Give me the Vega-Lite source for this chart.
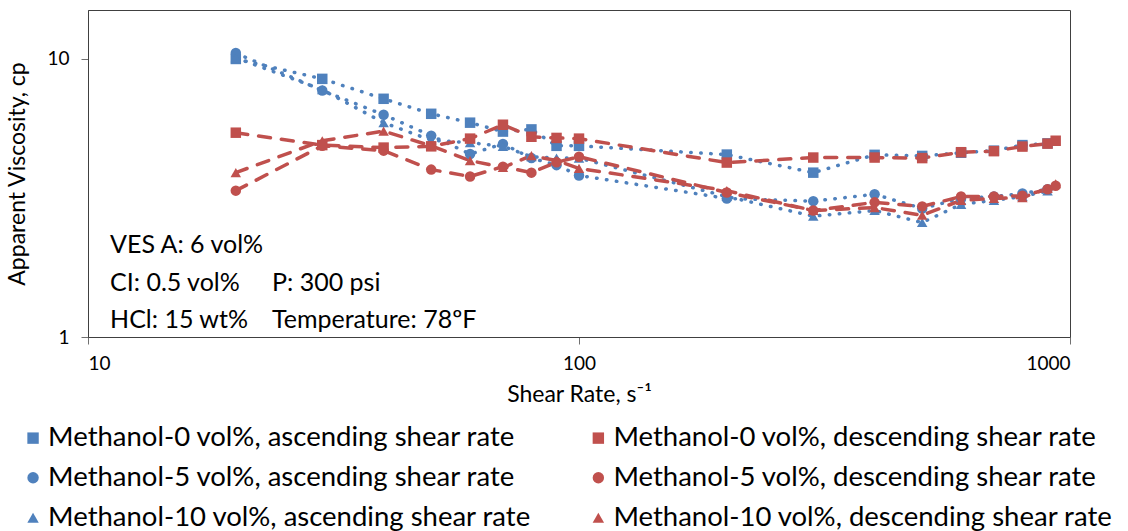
{
  "$schema": "https://vega.github.io/schema/vega-lite/v6.json",
  "width": 982,
  "height": 327,
  "autosize": {"type": "none"},
  "padding": {"left": 88, "top": 10, "right": 58, "bottom": 194},
  "background": "white",
  "config": {
    "font": "Lato",
    "view": {"stroke": "#404040", "strokeWidth": 1},
    "axis": {"grid": false, "domainColor": "#404040", "tickColor": "#707070", "labelColor": "#000000", "titleColor": "#000000", "labelFontSize": 19, "titleFontSize": 23, "titleFontWeight": "normal", "labelFont": "Lato", "titleFont": "Lato"},
    "legend": {"labelFont": "Lato", "labelColor": "#000000"}
  },
  "datasets": {
    "visc": [
      {"series": "Methanol-0 vol%, ascending shear rate", "rate": 20, "visc": 10.0},
      {"series": "Methanol-0 vol%, ascending shear rate", "rate": 30, "visc": 8.48},
      {"series": "Methanol-0 vol%, ascending shear rate", "rate": 40, "visc": 7.19},
      {"series": "Methanol-0 vol%, ascending shear rate", "rate": 50, "visc": 6.35},
      {"series": "Methanol-0 vol%, ascending shear rate", "rate": 60, "visc": 5.9},
      {"series": "Methanol-0 vol%, ascending shear rate", "rate": 70, "visc": 5.48},
      {"series": "Methanol-0 vol%, ascending shear rate", "rate": 80, "visc": 5.58},
      {"series": "Methanol-0 vol%, ascending shear rate", "rate": 90, "visc": 4.87},
      {"series": "Methanol-0 vol%, ascending shear rate", "rate": 100, "visc": 4.87},
      {"series": "Methanol-0 vol%, ascending shear rate", "rate": 200, "visc": 4.53},
      {"series": "Methanol-0 vol%, ascending shear rate", "rate": 300, "visc": 3.9},
      {"series": "Methanol-0 vol%, ascending shear rate", "rate": 400, "visc": 4.52},
      {"series": "Methanol-0 vol%, ascending shear rate", "rate": 500, "visc": 4.48},
      {"series": "Methanol-0 vol%, ascending shear rate", "rate": 600, "visc": 4.6},
      {"series": "Methanol-0 vol%, ascending shear rate", "rate": 700, "visc": 4.68},
      {"series": "Methanol-0 vol%, ascending shear rate", "rate": 800, "visc": 4.9},
      {"series": "Methanol-0 vol%, ascending shear rate", "rate": 900, "visc": 4.97},
      {"series": "Methanol-5 vol%, ascending shear rate", "rate": 20, "visc": 10.5},
      {"series": "Methanol-5 vol%, ascending shear rate", "rate": 30, "visc": 7.7},
      {"series": "Methanol-5 vol%, ascending shear rate", "rate": 40, "visc": 6.3},
      {"series": "Methanol-5 vol%, ascending shear rate", "rate": 50, "visc": 5.3},
      {"series": "Methanol-5 vol%, ascending shear rate", "rate": 60, "visc": 4.55},
      {"series": "Methanol-5 vol%, ascending shear rate", "rate": 70, "visc": 4.95},
      {"series": "Methanol-5 vol%, ascending shear rate", "rate": 80, "visc": 4.4},
      {"series": "Methanol-5 vol%, ascending shear rate", "rate": 90, "visc": 4.15},
      {"series": "Methanol-5 vol%, ascending shear rate", "rate": 100, "visc": 3.81},
      {"series": "Methanol-5 vol%, ascending shear rate", "rate": 200, "visc": 3.15},
      {"series": "Methanol-5 vol%, ascending shear rate", "rate": 300, "visc": 3.08},
      {"series": "Methanol-5 vol%, ascending shear rate", "rate": 400, "visc": 3.26},
      {"series": "Methanol-5 vol%, ascending shear rate", "rate": 500, "visc": 2.9},
      {"series": "Methanol-5 vol%, ascending shear rate", "rate": 600, "visc": 3.15},
      {"series": "Methanol-5 vol%, ascending shear rate", "rate": 700, "visc": 3.2},
      {"series": "Methanol-5 vol%, ascending shear rate", "rate": 800, "visc": 3.28},
      {"series": "Methanol-5 vol%, ascending shear rate", "rate": 900, "visc": 3.4},
      {"series": "Methanol-10 vol%, ascending shear rate", "rate": 20, "visc": 10.1},
      {"series": "Methanol-10 vol%, ascending shear rate", "rate": 30, "visc": 7.75},
      {"series": "Methanol-10 vol%, ascending shear rate", "rate": 40, "visc": 5.9},
      {"series": "Methanol-10 vol%, ascending shear rate", "rate": 50, "visc": 5.1},
      {"series": "Methanol-10 vol%, ascending shear rate", "rate": 60, "visc": 5.0},
      {"series": "Methanol-10 vol%, ascending shear rate", "rate": 70, "visc": 4.85},
      {"series": "Methanol-10 vol%, ascending shear rate", "rate": 80, "visc": 4.45},
      {"series": "Methanol-10 vol%, ascending shear rate", "rate": 90, "visc": 4.4},
      {"series": "Methanol-10 vol%, ascending shear rate", "rate": 100, "visc": 4.4},
      {"series": "Methanol-10 vol%, ascending shear rate", "rate": 200, "visc": 3.2},
      {"series": "Methanol-10 vol%, ascending shear rate", "rate": 300, "visc": 2.72},
      {"series": "Methanol-10 vol%, ascending shear rate", "rate": 400, "visc": 2.85},
      {"series": "Methanol-10 vol%, ascending shear rate", "rate": 500, "visc": 2.58},
      {"series": "Methanol-10 vol%, ascending shear rate", "rate": 600, "visc": 3.0},
      {"series": "Methanol-10 vol%, ascending shear rate", "rate": 700, "visc": 3.1},
      {"series": "Methanol-10 vol%, ascending shear rate", "rate": 800, "visc": 3.2},
      {"series": "Methanol-10 vol%, ascending shear rate", "rate": 900, "visc": 3.35},
      {"series": "Methanol-0 vol%, descending shear rate", "rate": 20, "visc": 5.43},
      {"series": "Methanol-0 vol%, descending shear rate", "rate": 30, "visc": 4.9},
      {"series": "Methanol-0 vol%, descending shear rate", "rate": 40, "visc": 4.8},
      {"series": "Methanol-0 vol%, descending shear rate", "rate": 50, "visc": 4.85},
      {"series": "Methanol-0 vol%, descending shear rate", "rate": 60, "visc": 5.17},
      {"series": "Methanol-0 vol%, descending shear rate", "rate": 70, "visc": 5.8},
      {"series": "Methanol-0 vol%, descending shear rate", "rate": 80, "visc": 5.25},
      {"series": "Methanol-0 vol%, descending shear rate", "rate": 90, "visc": 5.2},
      {"series": "Methanol-0 vol%, descending shear rate", "rate": 100, "visc": 5.17},
      {"series": "Methanol-0 vol%, descending shear rate", "rate": 200, "visc": 4.24},
      {"series": "Methanol-0 vol%, descending shear rate", "rate": 300, "visc": 4.42},
      {"series": "Methanol-0 vol%, descending shear rate", "rate": 400, "visc": 4.42},
      {"series": "Methanol-0 vol%, descending shear rate", "rate": 500, "visc": 4.4},
      {"series": "Methanol-0 vol%, descending shear rate", "rate": 600, "visc": 4.62},
      {"series": "Methanol-0 vol%, descending shear rate", "rate": 700, "visc": 4.66},
      {"series": "Methanol-0 vol%, descending shear rate", "rate": 800, "visc": 4.84},
      {"series": "Methanol-0 vol%, descending shear rate", "rate": 900, "visc": 4.96},
      {"series": "Methanol-0 vol%, descending shear rate", "rate": 935, "visc": 5.08},
      {"series": "Methanol-5 vol%, descending shear rate", "rate": 20, "visc": 3.36},
      {"series": "Methanol-5 vol%, descending shear rate", "rate": 30, "visc": 4.87},
      {"series": "Methanol-5 vol%, descending shear rate", "rate": 40, "visc": 4.68},
      {"series": "Methanol-5 vol%, descending shear rate", "rate": 50, "visc": 4.0},
      {"series": "Methanol-5 vol%, descending shear rate", "rate": 60, "visc": 3.78},
      {"series": "Methanol-5 vol%, descending shear rate", "rate": 70, "visc": 4.1},
      {"series": "Methanol-5 vol%, descending shear rate", "rate": 80, "visc": 3.9},
      {"series": "Methanol-5 vol%, descending shear rate", "rate": 90, "visc": 4.25},
      {"series": "Methanol-5 vol%, descending shear rate", "rate": 100, "visc": 4.45},
      {"series": "Methanol-5 vol%, descending shear rate", "rate": 200, "visc": 3.31},
      {"series": "Methanol-5 vol%, descending shear rate", "rate": 300, "visc": 2.85},
      {"series": "Methanol-5 vol%, descending shear rate", "rate": 400, "visc": 3.05},
      {"series": "Methanol-5 vol%, descending shear rate", "rate": 500, "visc": 2.95},
      {"series": "Methanol-5 vol%, descending shear rate", "rate": 600, "visc": 3.2},
      {"series": "Methanol-5 vol%, descending shear rate", "rate": 700, "visc": 3.2},
      {"series": "Methanol-5 vol%, descending shear rate", "rate": 800, "visc": 3.22},
      {"series": "Methanol-5 vol%, descending shear rate", "rate": 900, "visc": 3.4},
      {"series": "Methanol-5 vol%, descending shear rate", "rate": 935, "visc": 3.5},
      {"series": "Methanol-10 vol%, descending shear rate", "rate": 20, "visc": 3.9},
      {"series": "Methanol-10 vol%, descending shear rate", "rate": 30, "visc": 5.08},
      {"series": "Methanol-10 vol%, descending shear rate", "rate": 40, "visc": 5.5},
      {"series": "Methanol-10 vol%, descending shear rate", "rate": 50, "visc": 4.87},
      {"series": "Methanol-10 vol%, descending shear rate", "rate": 60, "visc": 4.31},
      {"series": "Methanol-10 vol%, descending shear rate", "rate": 70, "visc": 4.07},
      {"series": "Methanol-10 vol%, descending shear rate", "rate": 80, "visc": 4.49},
      {"series": "Methanol-10 vol%, descending shear rate", "rate": 90, "visc": 4.31},
      {"series": "Methanol-10 vol%, descending shear rate", "rate": 100, "visc": 4.04},
      {"series": "Methanol-10 vol%, descending shear rate", "rate": 200, "visc": 3.36},
      {"series": "Methanol-10 vol%, descending shear rate", "rate": 300, "visc": 2.85},
      {"series": "Methanol-10 vol%, descending shear rate", "rate": 400, "visc": 2.92},
      {"series": "Methanol-10 vol%, descending shear rate", "rate": 500, "visc": 2.74},
      {"series": "Methanol-10 vol%, descending shear rate", "rate": 600, "visc": 3.1},
      {"series": "Methanol-10 vol%, descending shear rate", "rate": 700, "visc": 3.15},
      {"series": "Methanol-10 vol%, descending shear rate", "rate": 800, "visc": 3.17},
      {"series": "Methanol-10 vol%, descending shear rate", "rate": 900, "visc": 3.42},
      {"series": "Methanol-10 vol%, descending shear rate", "rate": 935, "visc": 3.56}
    ],
    "notes": [
      {"rate": 11.09, "visc": 2.137, "label": "VES A: 6 vol%"},
      {"rate": 11.09, "visc": 1.562, "label": "CI: 0.5 vol%"},
      {"rate": 11.09, "visc": 1.15, "label": "HCl: 15 wt%"},
      {"rate": 23.7, "visc": 1.562, "label": "P: 300 psi"},
      {"rate": 23.7, "visc": 1.15, "label": "Temperature: 78ºF"}
    ]
  },
  "layer": [
    {
      "data": {"name": "visc"},
      "mark": {"type": "line", "strokeWidth": 3.5, "strokeCap": "round", "clip": true},
      "encoding": {
        "x": {"field": "rate", "type": "quantitative", "scale": {"type": "log", "domain": [10, 1000], "nice": false},
              "axis": {"values": [10, 100, 1000], "format": ".0f", "tickSize": 7, "labelPadding": 10, "title": "Shear Rate, s⁻¹", "titlePadding": 10}},
        "y": {"field": "visc", "type": "quantitative", "scale": {"type": "log", "domain": [1, 15], "nice": false, "zero": false},
              "axis": {"values": [1, 10], "format": ".0f", "tickSize": 7, "labelPadding": 12, "title": "Apparent Viscosity, cp", "titlePadding": 17}},
        "stroke": {"field": "series", "type": "nominal", "legend": null,
          "scale": {"domain": ["Methanol-0 vol%, descending shear rate", "Methanol-5 vol%, descending shear rate", "Methanol-10 vol%, descending shear rate", "Methanol-0 vol%, ascending shear rate", "Methanol-5 vol%, ascending shear rate", "Methanol-10 vol%, ascending shear rate"],
                    "range": ["#C0504D", "#C0504D", "#C0504D", "#4F81BD", "#4F81BD", "#4F81BD"]}},
        "strokeDash": {"field": "series", "type": "nominal", "legend": null,
          "scale": {"domain": ["Methanol-0 vol%, descending shear rate", "Methanol-5 vol%, descending shear rate", "Methanol-10 vol%, descending shear rate", "Methanol-0 vol%, ascending shear rate", "Methanol-5 vol%, ascending shear rate", "Methanol-10 vol%, ascending shear rate"],
                    "range": [[12, 11], [12, 11], [12, 11], [0.5, 9.5], [0.5, 9.5], [0.5, 9.5]]}}
      }
    },
    {
      "data": {"name": "visc"},
      "mark": {"type": "point", "filled": true, "opacity": 1, "size": 110},
      "encoding": {
        "x": {"field": "rate", "type": "quantitative"},
        "y": {"field": "visc", "type": "quantitative"},
        "color": {"field": "series", "type": "nominal",
          "scale": {"domain": ["Methanol-0 vol%, ascending shear rate", "Methanol-5 vol%, ascending shear rate", "Methanol-10 vol%, ascending shear rate", "Methanol-0 vol%, descending shear rate", "Methanol-5 vol%, descending shear rate", "Methanol-10 vol%, descending shear rate"],
                    "range": ["#4F81BD", "#4F81BD", "#4F81BD", "#C0504D", "#C0504D", "#C0504D"]},
          "legend": {"title": null, "orient": "none", "legendX": -68.7, "legendY": 414, "columns": 2, "columnPadding": 52.3, "rowPadding": 11, "padding": 0,
                     "labelFontSize": 27.5, "labelLimit": 700, "labelOffset": 1.3, "symbolSize": 130}},
        "shape": {"field": "series", "type": "nominal",
          "scale": {"domain": ["Methanol-0 vol%, ascending shear rate", "Methanol-5 vol%, ascending shear rate", "Methanol-10 vol%, ascending shear rate", "Methanol-0 vol%, descending shear rate", "Methanol-5 vol%, descending shear rate", "Methanol-10 vol%, descending shear rate"],
                    "range": ["square", "circle", "triangle-up", "square", "circle", "triangle-up"]},
          "legend": {"title": null, "orient": "none", "legendX": -68.7, "legendY": 414, "columns": 2, "columnPadding": 52.3, "rowPadding": 11, "padding": 0,
                     "labelFontSize": 27.5, "labelLimit": 700, "labelOffset": 1.3, "symbolSize": 130}}
      }
    },
    {
      "data": {"name": "notes"},
      "mark": {"type": "text", "align": "left", "baseline": "middle", "fontSize": 25, "font": "Lato", "color": "#000000"},
      "encoding": {
        "x": {"field": "rate", "type": "quantitative"},
        "y": {"field": "visc", "type": "quantitative"},
        "text": {"field": "label", "type": "nominal"}
      }
    }
  ]
}
